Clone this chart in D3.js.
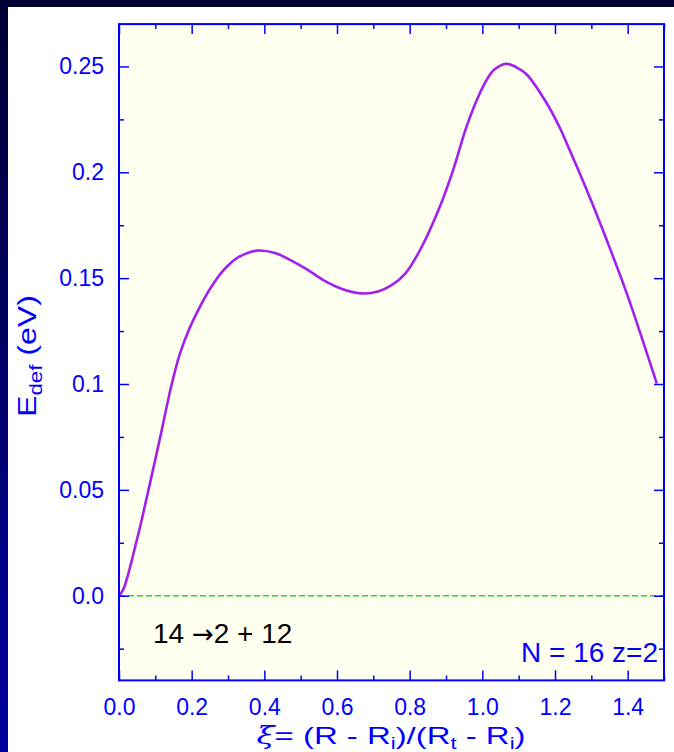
<!DOCTYPE html>
<html>
<head>
<meta charset="utf-8">
<script src="https://cdn.jsdelivr.net/npm/d3@7/dist/d3.min.js"></script>
<style>
  html, body { margin: 0; padding: 0; background: #000033; }
  svg { display: block; }
  text { font-family: "Liberation Sans", Arial, sans-serif; }
</style>
</head>
<body>
<svg id="chart" width="674" height="752"></svg>
<script>
// ---- data ----
const xi = [0, 0.012, 0.025, 0.04, 0.06, 0.0812, 0.1142, 0.1445, 0.1679, 0.1954,
  0.223, 0.256, 0.289, 0.3276, 0.379, 0.4294, 0.4707, 0.5175, 0.5623, 0.6138,
  0.668, 0.7129, 0.7514, 0.7872, 0.8285, 0.8836, 0.920, 0.957, 0.9937, 1.0212,
  1.0331, 1.0652, 1.0928, 1.1222, 1.1773, 1.2139, 1.2323, 1.2874, 1.3423, 1.3975, 1.48];
const edef = [0, 0.003, 0.010, 0.020, 0.034, 0.050, 0.0755, 0.0995, 0.1145, 0.1268,
  0.1366, 0.1464, 0.154, 0.1598, 0.163, 0.1619, 0.1586, 0.1541, 0.1491, 0.1449,
  0.1428, 0.1437, 0.1468, 0.152, 0.1633, 0.184, 0.2013, 0.2218, 0.2376, 0.2462,
  0.2486, 0.2513, 0.2497, 0.2462, 0.2326, 0.2208, 0.2137, 0.1916, 0.168, 0.1428, 0.1003];
const xMajorTicks = [0, 0.2, 0.4, 0.6, 0.8, 1.0, 1.2, 1.4];
const xMajorLabels = ["0.0", "0.2", "0.4", "0.6", "0.8", "1.0", "1.2", "1.4"];
const xMinorTicks = [0.1, 0.3, 0.5, 0.7, 0.9, 1.1, 1.3, 1.5];
const yMajorTicks = [0, 0.05, 0.1, 0.15, 0.2, 0.25];
const yMajorLabels = ["0.0", "0.05", "0.1", "0.15", "0.2", "0.25"];
const yMinorTicks = [-0.025, 0.025, 0.075, 0.125, 0.175, 0.225];

// ---- layout ----
const svg = d3.select("#chart");
const L = 119, R = 664, T = 24.1, B = 680.4;
const x = d3.scaleLinear().domain([0, 1.5]).range([L, R]);
const y = d3.scaleLinear().domain([-0.04, 0.27]).range([B, T]);
const blue = "#0000ff";

// background frame
const defs = svg.append("defs");
const lg = defs.append("linearGradient").attr("id", "lg").attr("x1", 0).attr("y1", 0).attr("x2", 0).attr("y2", 1);
lg.append("stop").attr("offset", "0%").attr("stop-color", "#000033");
lg.append("stop").attr("offset", "100%").attr("stop-color", "#0000a0");
svg.append("rect").attr("x", 0).attr("y", 0).attr("width", 674).attr("height", 752).attr("fill", "#000033");
svg.append("rect").attr("x", 0).attr("y", 7).attr("width", 8).attr("height", 745).attr("fill", "url(#lg)");
svg.append("rect").attr("x", 8).attr("y", 7).attr("width", 666).attr("height", 745).attr("fill", "#ffffff");

// plot area
svg.append("rect").attr("x", L).attr("y", T).attr("width", R - L).attr("height", B - T).attr("fill", "#fffff0");

// zero line
svg.append("line").attr("x1", x(0)).attr("x2", R).attr("y1", y(0)).attr("y2", y(0))
  .attr("stroke", "#22dd22").attr("stroke-width", 1.5).attr("stroke-dasharray", "6,3");

// curve
const line = d3.line().x((d, i) => x(xi[i])).y(d => y(d)).curve(d3.curveCatmullRom.alpha(0.5));
svg.append("path").attr("d", line(edef)).attr("fill", "none")
  .attr("stroke", "#a020f0").attr("stroke-width", 2.6).attr("stroke-linejoin", "round");

// axes
function styleAxis(g) {
  g.select(".domain").remove();
  g.selectAll("line").attr("stroke", blue).attr("stroke-width", 1.5);
  g.selectAll("text").attr("fill", blue).style("font-size", "23px")
   .style("font-family", "'Liberation Sans', Arial, sans-serif");
}
svg.append("g").attr("transform", `translate(0,${B})`)
  .call(d3.axisBottom(x).tickValues(xMajorTicks).tickFormat((d, i) => xMajorLabels[i]).tickSizeInner(-10).tickSizeOuter(0).tickPadding(18.5))
  .call(styleAxis);
svg.append("g").attr("transform", `translate(0,${B})`)
  .call(d3.axisBottom(x).tickValues(xMinorTicks).tickFormat("").tickSizeInner(-5).tickSizeOuter(0))
  .call(styleAxis);
svg.append("g").attr("transform", `translate(0,${T})`)
  .call(d3.axisTop(x).tickValues(xMajorTicks).tickFormat("").tickSizeInner(-10).tickSizeOuter(0))
  .call(styleAxis);
svg.append("g").attr("transform", `translate(0,${T})`)
  .call(d3.axisTop(x).tickValues(xMinorTicks).tickFormat("").tickSizeInner(-5).tickSizeOuter(0))
  .call(styleAxis);
svg.append("g").attr("transform", `translate(${L},0)`)
  .call(d3.axisLeft(y).tickValues(yMajorTicks).tickFormat((d, i) => yMajorLabels[i]).tickSizeInner(-10).tickSizeOuter(0).tickPadding(15))
  .call(styleAxis);
svg.append("g").attr("transform", `translate(${L},0)`)
  .call(d3.axisLeft(y).tickValues(yMinorTicks).tickFormat("").tickSizeInner(-5).tickSizeOuter(0))
  .call(styleAxis);
svg.append("g").attr("transform", `translate(${R},0)`)
  .call(d3.axisRight(y).tickValues(yMajorTicks).tickFormat("").tickSizeInner(-10).tickSizeOuter(0))
  .call(styleAxis);
svg.append("g").attr("transform", `translate(${R},0)`)
  .call(d3.axisRight(y).tickValues(yMinorTicks).tickFormat("").tickSizeInner(-5).tickSizeOuter(0))
  .call(styleAxis);

// frame
svg.append("rect").attr("x", L).attr("y", T).attr("width", R - L).attr("height", B - T)
  .attr("fill", "none").attr("stroke", blue).attr("stroke-width", 2);

// y axis title
const yt = svg.append("text").attr("transform", "translate(36,356) rotate(-90)")
  .attr("text-anchor", "middle").attr("fill", blue).style("font-size", "26px")
  .attr("textLength", 122).attr("lengthAdjust", "spacingAndGlyphs");
yt.append("tspan").text("E");
yt.append("tspan").attr("dy", 6).style("font-size", "18px").text("def");
yt.append("tspan").attr("dy", -6).text(" (eV)");

// x axis title
const xt = svg.append("text").attr("x", 391).attr("y", 744)
  .attr("text-anchor", "middle").attr("fill", blue).style("font-size", "24px")
  .attr("textLength", 269).attr("lengthAdjust", "spacingAndGlyphs");
xt.append("tspan").style("font-style", "italic").style("font-family", "'DejaVu Serif', serif").text("\u03BE");
xt.append("tspan").text("= (R - R");
xt.append("tspan").attr("dy", 5).style("font-size", "16px").text("i");
xt.append("tspan").attr("dy", -5).text(")/(R");
xt.append("tspan").attr("dy", 5).style("font-size", "16px").text("t");
xt.append("tspan").attr("dy", -5).text(" - R");
xt.append("tspan").attr("dy", 5).style("font-size", "16px").text("i");
xt.append("tspan").attr("dy", -5).text(")");

// annotations
const ann = svg.append("text").attr("x", 153).attr("y", 643).attr("fill", "#000000")
  .style("font-size", "28px");
ann.append("tspan").text("14 ");
ann.append("tspan").style("font-family", "'DejaVu Sans', sans-serif").style("font-size", "26px").text("\u2192");
ann.append("tspan").text("2 + 12");
svg.append("text").attr("x", 658).attr("y", 662).attr("text-anchor", "end").attr("fill", blue)
  .style("font-size", "28px").text("N = 16 z=2");
</script>
</body>
</html>
